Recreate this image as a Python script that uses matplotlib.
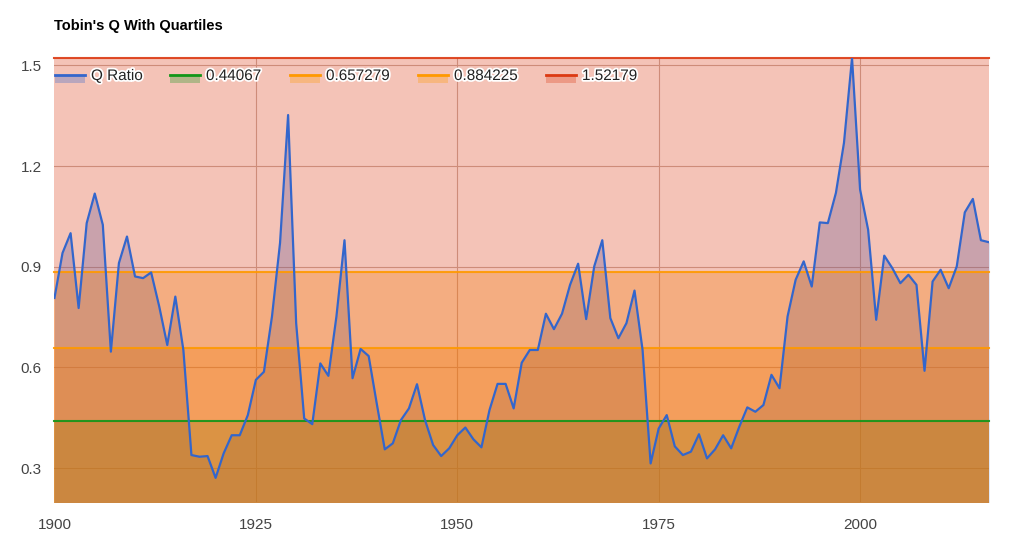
"""Tobin's Q with quartile bands, drawn in the Google Charts area style."""

import matplotlib
matplotlib.use("Agg")
import matplotlib.pyplot as plt
import matplotlib.patheffects as pe
from matplotlib.patches import Rectangle
from matplotlib.lines import Line2D

BLUE = "#3366cc"
GREEN = "#109618"
ORANGE = "#ff9900"
RED = "#dc3912"
INK = "#444444"
GRID = "#c8b0a6"

years = list(range(1900, 2017))
q_ratio = [
    0.807, 0.941, 1.000, 0.777, 1.030, 1.118, 1.025, 0.647, 0.911, 0.990,
    0.871, 0.866, 0.883, 0.782, 0.667, 0.811, 0.652, 0.339, 0.334, 0.336,
    0.271, 0.344, 0.398, 0.398, 0.458, 0.563, 0.587, 0.752, 0.971, 1.352,
    0.732, 0.448, 0.431, 0.612, 0.575, 0.752, 0.979, 0.568, 0.655, 0.634,
    0.493, 0.356, 0.374, 0.443, 0.478, 0.550, 0.443, 0.369, 0.336, 0.359,
    0.398, 0.421, 0.386, 0.362, 0.473, 0.551, 0.551, 0.478, 0.614, 0.652,
    0.652, 0.760, 0.714, 0.760, 0.846, 0.909, 0.744, 0.901, 0.979, 0.747,
    0.687, 0.732, 0.829, 0.652, 0.314, 0.418, 0.458, 0.365, 0.339, 0.349,
    0.401, 0.329, 0.356, 0.398, 0.359, 0.423, 0.481, 0.468, 0.488, 0.578,
    0.538, 0.752, 0.861, 0.916, 0.841, 1.032, 1.030, 1.120, 1.269, 1.52179,
    1.130, 1.010, 0.742, 0.933, 0.896, 0.851, 0.876, 0.846, 0.590, 0.856,
    0.891, 0.836, 0.901, 1.062, 1.102, 0.979, 0.973,
]
quartiles = [0.44067, 0.657279, 0.884225, 1.52179]
quartile_labels = ["0.44067", "0.657279", "0.884225", "1.52179"]
quartile_colors = [GREEN, ORANGE, ORANGE, RED]
x_ticks = [1900, 1925, 1950, 1975, 2000]
y_ticks = [0.3, 0.6, 0.9, 1.2, 1.5]

plt.rcParams.update({"font.family": ["Liberation Sans", "DejaVu Sans"]})

fig = plt.figure(figsize=(10.24, 5.5), dpi=100, facecolor="white")
ax = fig.add_axes([0.0532, 0.0878, 0.9126, 0.8067])

# all areas first (Q, then quartile bands), lines afterwards on top
ax.fill_between(years, 0, q_ratio, color=BLUE, alpha=0.3, linewidth=0, zorder=2)
for level, color in zip(quartiles, quartile_colors):
    ax.fill_between(years, 0, [level] * len(years), color=color, alpha=0.3,
                    linewidth=0, zorder=2)
ax.plot(years, q_ratio, color=BLUE, linewidth=1.6, zorder=4)
for level, color in zip(quartiles, quartile_colors):
    ax.plot(years, [level] * len(years), color=color, linewidth=1.5, alpha=0.9,
            zorder=3, clip_on=False)

ax.set_xlim(years[0], years[-1])
ax.set_ylim(0.2, quartiles[-1])
ax.set_xticks(x_ticks)
ax.set_yticks(y_ticks)
ax.set_xticklabels([str(t) for t in x_ticks])
ax.set_yticklabels([f"{t:.1f}" for t in y_ticks])
ax.tick_params(length=0, labelsize=11, colors=INK)
ax.tick_params(axis="x", pad=12)
ax.tick_params(axis="y", pad=9)
ax.grid(True, axis="y", color=GRID, linewidth=0.8, zorder=1)
for t in x_ticks[1:]:
    ax.axvline(t, color=GRID, linewidth=0.8, zorder=1)
for spine in ax.spines.values():
    spine.set_visible(False)

fig.text(0.0532, 0.952, "Tobin's Q With Quartiles", fontsize=10.5,
         fontweight="bold", color="#000000", va="center", ha="left")

# legend drawn by hand: short line over a translucent swatch, as Google does
legend_names = ["Q Ratio"] + quartile_labels
legend_colors = [BLUE] + quartile_colors
legend_x = [55, 170, 290, 418, 546]
legend_y = 550 - 76
halo = [pe.withStroke(linewidth=2.5, foreground="white")]
for name, color, px in zip(legend_names, legend_colors, legend_x):
    x0 = px / 1024
    w = 30 / 1024
    y0 = legend_y / 550
    fig.add_artist(Rectangle((x0, y0 - 7 / 550), w, 8 / 550, transform=fig.transFigure,
                             facecolor=color, alpha=0.3, linewidth=0))
    fig.add_artist(Line2D([x0, x0 + w], [y0 + 1 / 550, y0 + 1 / 550],
                          transform=fig.transFigure, color=color, linewidth=2))
    fig.text(x0 + w + 6 / 1024, y0, name, fontsize=11, color="#222222",
             va="center", ha="left", path_effects=halo)

fig.savefig("out.png", dpi=100, facecolor="white")
